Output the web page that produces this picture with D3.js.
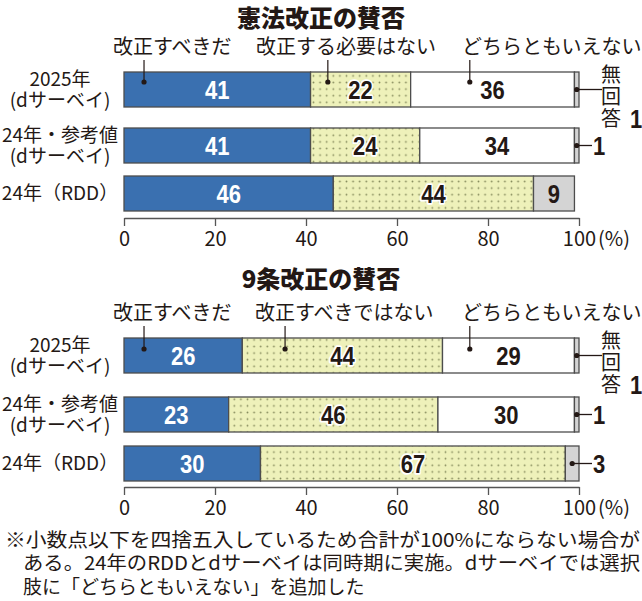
<!DOCTYPE html>
<html>
<head>
<meta charset="utf-8">
<script src="https://cdn.jsdelivr.net/npm/d3@7"></script>
<style>
  body { margin: 0; background: #fff; }
  svg { display: block; font-family: "Noto Sans CJK JP", "Noto Sans", sans-serif; }
</style>
</head>
<body>
<div id="chart"></div>
<script>
// ---- data ----
const titles = ["憲法改正の賛否", "9条改正の賛否"];
const rowLabels = [["2025年", "(dサーベイ)"], ["24年・参考値", "(dサーベイ)"], ["24年（RDD）"]];
const kenpoAnswers = ["改正すべきだ", "改正する必要はない", "どちらともいえない", "無回答"];
const kyujoAnswers = ["改正すべきだ", "改正すべきではない", "どちらともいえない", "無回答"];
// RDD survey had no "どちらともいえない" option -> 0
const kenpoValues = [[41, 22, 36, 1], [41, 24, 34, 1], [46, 44, 0, 9]];
const kyujoValues = [[26, 44, 29, 1], [23, 46, 30, 1], [30, 67, 0, 3]];
const xTicks = [0, 20, 40, 60, 80, 100];
const footnote = [
  "※小数点以下を四捨五入しているため合計が100%にならない場合が",
  "ある。24年のRDDとdサーベイは同時期に実施。dサーベイでは選択",
  "肢に「どちらともいえない」を追加した"
];

// ---- layout ----
const w = 642, h = 601;
const ink = "#231815";
const numFont = "'Liberation Sans', Arial, sans-serif";
const fills = ["#3a70b0", "url(#dots)", "#ffffff", "#d4d4d4"];

const svg = d3.select("#chart").append("svg")
  .attr("width", w)
  .attr("height", h);

// dotted fill for the second answer
const pat = svg.append("defs").append("pattern")
  .attr("id", "dots")
  .attr("patternUnits", "userSpaceOnUse")
  .attr("width", 6.6)
  .attr("height", 6.6);
pat.append("rect").attr("width", 6.6).attr("height", 6.6).attr("fill", "#eef1ba");
pat.append("circle").attr("cx", 3.3).attr("cy", 3.3).attr("r", 0.9).attr("fill", "#878d5e");

const xScale = d3.scaleLinear().domain([0, 100]).range([124, 579]);

const panels = [
  { title: titles[0], answers: kenpoAnswers, values: kenpoValues,
    titleY: 18, legendY: 47, legendX: [113, 256, 462], calloutAt: [4.4, 44.8, 76], calloutY: 82,
    rowTops: [72, 128, 176], axisY: 218 },
  { title: titles[1], answers: kyujoAnswers, values: kyujoValues,
    titleY: 279, legendY: 313, legendX: [113, 255, 462], calloutAt: [4.4, 35.4, 76], calloutY: 349,
    rowTops: [338, 397, 446], axisY: 487 }
];

const barH = 35;
const stack = d3.stack().keys([0, 1, 2, 3]);

// condensed bold numbers, like the newspaper figures
function numText(sel, x, y, anchor) {
  return sel.append("text")
    .attr("transform", `translate(${x}, ${y}) scale(0.88, 1)`)
    .attr("dy", "0.36em")
    .attr("text-anchor", anchor)
    .style("font-family", numFont)
    .style("font-size", "25px")
    .style("font-weight", "bold")
    .style("fill", ink);
}

panels.forEach(p => {
  const g = svg.append("g");
  const yScale = d3.scaleOrdinal().domain(d3.range(rowLabels.length)).range(p.rowTops);

  // title
  g.append("text")
    .attr("x", 321)
    .attr("y", p.titleY)
    .attr("dy", "0.36em")
    .attr("text-anchor", "middle")
    .style("font-size", "24px")
    .style("font-weight", 900)
    .style("fill", ink)
    .text(p.title);

  // answer names
  p.answers.slice(0, 3).forEach((a, i) => {
    g.append("text")
      .attr("x", p.legendX[i])
      .attr("y", p.legendY)
      .attr("dy", "0.36em")
      .style("font-size", "20px")
      .style("fill", ink)
      .text(a);
  });

  // row labels (one text per row, lines as tspans)
  rowLabels.forEach((lines, r) => {
    const cy = yScale(r) + barH / 2;
    const label = g.append("text")
      .attr("text-anchor", "middle")
      .style("font-size", "19px")
      .style("fill", ink);
    lines.forEach((t, k) => {
      label.append("tspan")
        .attr("x", 60)
        .attr("y", cy + (lines.length === 1 ? 0 : (k === 0 ? -10.5 : 10.5)))
        .attr("dy", "0.36em")
        .text(t);
    });
  });

  // stacked bars
  const series = stack(p.values);
  series.forEach((s, si) => {
    g.selectAll(null)
      .data(s.map((d, r) => ({ r: r, x0: d[0], x1: d[1] })).filter(d => d.x1 > d.x0))
      .join("rect")
      .attr("x", d => xScale(d.x0))
      .attr("y", d => yScale(d.r))
      .attr("width", d => xScale(d.x1) - xScale(d.x0))
      .attr("height", barH)
      .attr("fill", fills[si])
      .attr("stroke", "#4d4d4d")
      .attr("stroke-width", 1.3);
  });

  // value labels inside segments
  series.forEach((s, si) => {
    s.forEach((d, r) => {
      const v = d[1] - d[0];
      if (v < 5) return;
      numText(g, xScale((d[0] + d[1]) / 2), yScale(r) + barH / 2, "middle")
        .style("fill", si === 0 ? "#fff" : ink)
        .style("stroke", si === 1 ? "#fff" : "none")
        .style("stroke-width", 3.5)
        .style("stroke-linejoin", "round")
        .style("paint-order", "stroke")
        .text(v);
    });
  });

  // callouts from the answer names into the first row
  p.calloutAt.forEach(v => {
    g.append("line")
      .attr("x1", xScale(v)).attr("x2", xScale(v))
      .attr("y1", p.legendY + 13).attr("y2", p.calloutY)
      .attr("stroke", ink).attr("stroke-width", 1.2);
    g.append("circle")
      .attr("cx", xScale(v)).attr("cy", p.calloutY).attr("r", 2.6)
      .attr("fill", ink);
  });

  // small "no answer" values outside the bar
  series[3].forEach((d, r) => {
    const v = d[1] - d[0];
    if (v <= 0 || v >= 5) return;
    const cy = yScale(r) + barH / 2;
    const dotX = xScale(Math.min((d[0] + d[1]) / 2, 99.6));
    const endX = xScale(100) + (r === 0 ? 23 : 13);
    g.append("line")
      .attr("x1", dotX).attr("x2", endX)
      .attr("y1", cy).attr("y2", cy)
      .attr("stroke", ink).attr("stroke-width", 1.3);
    g.append("circle")
      .attr("cx", dotX).attr("cy", cy).attr("r", 2.6)
      .attr("fill", ink);
    if (r === 0) {
      // vertical 無回答 + value
      g.append("text")
        .attr("x", endX + 9)
        .attr("y", cy - 25)
        .attr("writing-mode", "vertical-rl")
        .style("font-size", "20px")
        .style("letter-spacing", "2px")
        .style("fill", ink)
        .text(p.answers[3]);
      numText(g, endX + 34, cy + 29, "middle").text(v);
    } else {
      numText(g, endX + 1, cy, "start").text(v);
    }
  });

  // x axis
  const xAxis = d3.axisBottom(xScale)
    .tickValues(xTicks)
    .tickSizeInner(8)
    .tickSizeOuter(0)
    .tickPadding(6);
  const ax = g.append("g")
    .attr("transform", `translate(0, ${p.axisY})`)
    .call(xAxis);
  ax.select(".domain").attr("stroke", "#555").attr("stroke-width", 1.3);
  ax.selectAll(".tick line").attr("stroke", "#555").attr("stroke-width", 1.3);
  ax.selectAll(".tick text")
    .style("font-family", "'Noto Sans CJK JP', sans-serif")
    .style("font-size", "20px")
    .style("fill", ink);
  g.append("text")
    .attr("x", xScale(100) + 19)
    .attr("y", p.axisY + 8 + 6)
    .attr("dy", "0.71em")
    .style("font-size", "20px")
    .style("fill", ink)
    .text("(%)");
});

// footnote
footnote.forEach((t, i) => {
  const txt = svg.append("text")
    .attr("x", i === 0 ? 5 : 23)
    .attr("y", [540, 563, 587][i])
    .attr("dy", "0.36em")
    .style("font-size", "19px")
    .style("fill", ink)
    .text(t);
  if (i < 2) txt.attr("textLength", i === 0 ? 635 : 617).attr("lengthAdjust", "spacingAndGlyphs");
});
</script>
</body>
</html>
